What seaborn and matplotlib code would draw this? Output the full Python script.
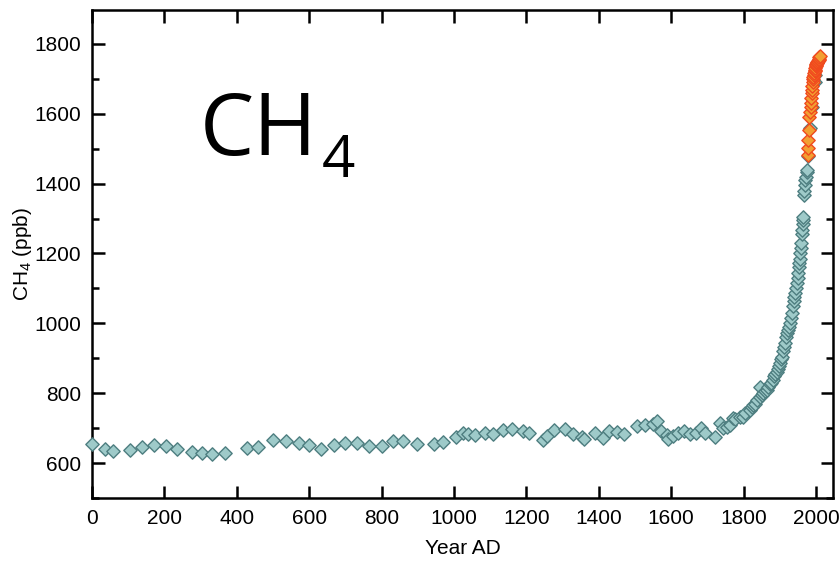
import matplotlib
matplotlib.use("Agg")
import matplotlib.pyplot as plt
from matplotlib.ticker import MultipleLocator
import seaborn as sns

# ice core record (Law Dome etc.)
ice_year = [0, 36, 58, 105, 138, 171, 204, 235, 276, 304, 331, 367, 428, 459,
            500, 536, 572, 599, 633, 668, 699, 732, 765, 801, 831, 859, 898,
            945, 970, 1005, 1025, 1039, 1058, 1086, 1108, 1135, 1160, 1190,
            1207, 1246, 1257, 1276, 1307, 1329, 1354, 1359, 1390, 1412, 1428,
            1450, 1470, 1506, 1528, 1550, 1561, 1572, 1588, 1591, 1605, 1619,
            1635, 1652, 1669, 1682, 1693, 1721, 1735, 1743, 1754, 1762, 1771,
            1776, 1790, 1798, 1804, 1818, 1822, 1826, 1832, 1837, 1845, 1845,
            1850, 1854, 1860, 1864, 1867, 1872, 1876, 1881, 1885, 1888, 1892,
            1895, 1898, 1900, 1903, 1906, 1909, 1912, 1914, 1917, 1920, 1922,
            1925, 1928, 1930, 1933, 1936, 1938, 1940, 1942, 1945, 1947, 1949,
            1950, 1952, 1953, 1955, 1956, 1958, 1959, 1961, 1962, 1963, 1964,
            1965, 1967, 1968, 1970, 1971, 1972, 1974, 1975, 1978, 1984, 1990,
            1996, 1998]
ice_ch4 = [654, 640, 634, 637, 646, 652, 649, 640, 631, 629, 626, 629, 643, 645,
           666, 663, 657, 652, 640, 651, 657, 657, 650, 649, 663, 663, 654,
           654, 660, 674, 686, 683, 679, 686, 683, 694, 697, 691,
           686, 666, 677, 694, 697, 683, 674, 670, 686, 671, 691,
           689, 683, 706, 709, 712, 720, 691, 680, 669, 678, 686,
           692, 683, 686, 700, 686, 676, 715, 700, 703, 709, 729,
           727, 732, 733, 743, 752, 760, 766, 770, 781, 790, 818,
           795, 800, 805, 809, 818, 825, 830, 838, 848, 855, 862,
           868, 878, 887, 897, 905, 920, 932, 944, 960, 972, 980,
           990, 1001, 1015, 1030, 1050, 1065, 1075, 1087, 1100, 1116, 1130,
           1144, 1160, 1173, 1185, 1200, 1215, 1230, 1255, 1268, 1285, 1296,
           1305, 1368, 1380, 1397, 1410, 1420, 1432, 1440, 1480, 1560, 1620,
           1690, 1710]

# atmospheric measurements
air_year = [1977, 1978, 1979, 1980, 1982, 1984, 1985, 1986, 1987, 1988, 1989,
            1990, 1991, 1992, 1993, 1994, 1995, 1996, 1997, 1998, 1999, 2000,
            2001, 2002, 2003, 2004, 2005, 2006, 2007, 2008, 2009, 2010]
air_ch4 = [1482, 1502, 1525, 1554, 1590, 1606, 1618, 1630, 1645, 1658, 1668,
           1680, 1690, 1700, 1705, 1712, 1718, 1722, 1726, 1732, 1738, 1740,
           1742, 1744, 1746, 1748, 1750, 1752, 1755, 1758, 1762, 1765]

sns.set_style("ticks")
plt.rcParams["font.family"] = ["Liberation Sans", "DejaVu Sans"]
plt.rcParams["mathtext.default"] = "regular"
plt.rcParams["text.color"] = "black"
plt.rcParams["axes.labelcolor"] = "black"

fig = plt.figure(figsize=(8.39, 5.65), dpi=100)
ax = fig.add_axes([92 / 839, 67 / 565, 741 / 839, 488 / 565])

sns.scatterplot(x=ice_year, y=ice_ch4, ax=ax, marker="D", s=46,
                color="#9ecac9", edgecolor="#4e7e80", linewidth=1.0,
                zorder=3, clip_on=False)
sns.scatterplot(x=air_year, y=air_ch4, ax=ax, marker="D", s=46,
                color="#f2a032", edgecolor="#f04a1e", linewidth=1.0, zorder=4)

ax.set_xlim(0, 2047)
ax.set_ylim(500, 1897)
ax.xaxis.set_major_locator(MultipleLocator(200))
ax.yaxis.set_major_locator(MultipleLocator(200))
ax.yaxis.set_minor_locator(MultipleLocator(100))

for s in ax.spines.values():
    s.set_linewidth(1.8)
    s.set_color("black")
ax.tick_params(which="major", direction="in", length=9, width=1.8,
               top=True, right=True, labelsize=15, pad=8,
               colors="black", labelcolor="black")
ax.tick_params(which="minor", direction="in", length=5, width=1.8,
               right=True, left=True, colors="black")

ax.set_xlabel("Year AD", fontsize=15, labelpad=8)
ax.set_ylabel("CH$_4$ (ppb)", fontsize=15, labelpad=0)

fig.text(200 / 839, 1 - 155 / 565, "CH", fontsize=62, family="Open Sans",
         color="black", ha="left", va="baseline")
fig.text(322 / 839, 1 - 177 / 565, "4", fontsize=42, family="Open Sans",
         color="black", ha="left", va="baseline")

fig.savefig("out.png", dpi=100)
